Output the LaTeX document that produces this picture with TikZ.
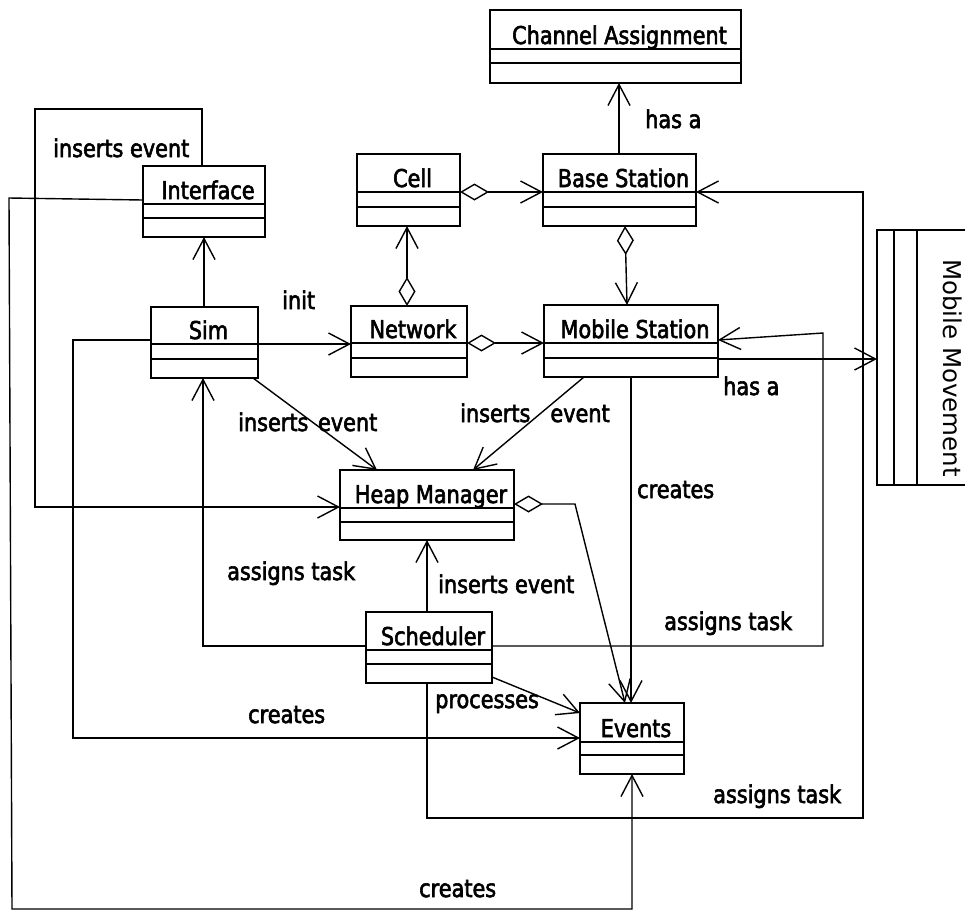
\documentclass[tikz,border=0pt]{standalone}
\usepackage{fontspec}
\setmainfont[FakeStretch=0.85,FakeBold=2.4]{DejaVu Sans}
\newfontfamily\wideface{DejaVu Sans}
\usetikzlibrary{arrows.meta,fit}

\tikzset{
  classbox/.style={draw, line width=1.8pt, inner sep=0pt, outer sep=0pt},
  classline/.style={line width=1.8pt},
  classname/.style={anchor=base, inner sep=0pt, font=\fontsize{24.5}{29}\selectfont},
  lbl/.style={anchor=base west, inner sep=0pt, font=\fontsize{24.5}{29}\selectfont},
  conn/.style={line width=1.4pt},
  tip/.tip={Straight Barb[length=21pt,width=22pt]},
  assoc/.style={conn, -tip},
  aggr/.style={conn, {Diamond[open,length=29pt,width=17pt]}-tip},
}

% UML class: name, title, x1, y1, x2, y2, first divider, second divider
\newcommand\umlclass[8]{%
  \node[classbox, fit={(#3,#4) (#5,#6)}] (#1) {};
  \draw[classline] (#3,#7) -- (#5,#7) (#3,#8) -- (#5,#8);
  \node[classname] (#1-name) at ({(#3+#5)/2+4},{#7-5}) {#2};
}

\begin{document}
\begin{tikzpicture}[x=1pt,y=-1pt]
\useasboundingbox (0,0) rectangle (965,911);

% classes
\umlclass{chan}{Channel Assignment}{490}{10}{741}{83}{49}{63}
\umlclass{iface}{Interface}{143}{166}{265}{237}{204}{218}
\umlclass{cell}{Cell}{357}{154}{460}{226}{192}{207}
\umlclass{base}{Base Station}{543}{154}{696}{226}{192}{207}
\umlclass{sim}{Sim}{151}{307}{258}{378}{344}{359}
\umlclass{net}{Network}{351}{306}{467}{377}{343}{358}
\umlclass{mobile}{Mobile Station}{544}{305}{718}{377}{343}{358}
\umlclass{heap}{Heap Manager}{340}{470}{514}{540}{508}{522}
\umlclass{sched}{Scheduler}{366}{612}{492}{683}{650}{664}
\umlclass{events}{Events}{580}{703}{684}{774}{742}{755}

% rotated class running off the right edge
\node[classbox, fit={(877,230) (985,485)}] (movement) {};
\draw[classline] (894,230) -- (894,485) (917,230) -- (917,485);
\node[classname, rotate=-90, font=\wideface\fontsize{24.5}{29}\selectfont] (movement-name) at (943,368) {Mobile Movement};

% associations and aggregations
\draw[assoc] (619,0 |- base.north) -- (619,0 |- chan.south);
\draw[aggr] (cell.east |- 0,192) -- (base.west |- 0,192);
\draw[aggr] (407,0 |- net.north) -- (407,0 |- cell.south);
\draw[aggr] (625,0 |- base.south) -- (627,0 |- mobile.north);
\draw[assoc] (204,0 |- sim.north) -- (204,0 |- iface.south);
\draw[assoc] (sim.east |- 0,344) -- (net.west |- 0,344);
\draw[aggr] (net.east |- 0,343) -- (mobile.west |- 0,343);
\draw[assoc] (253,0 |- sim.south) -- (377,0 |- heap.north);
\draw[assoc] (584,0 |- mobile.south) -- (473,0 |- heap.north);
\draw[assoc] (mobile.east |- 0,359) -- (movement.west |- 0,359);
\draw[assoc] (427,0 |- sched.south) -- (427,818) -- (863,818) -- (863,192) -- (base.east |- 0,192);
\draw[assoc] (sched.east |- 0,646) -- (823,646) -- (823,333) -- (mobile.east |- 0,340);
\draw[assoc] (sched.west |- 0,646) -- (203,646) -- (203,0 |- sim.south);
\draw[assoc] (427,0 |- sched.north) -- (427,0 |- heap.south);
\draw[aggr] (heap.east |- 0,504) -- (575,504) -- (625,0 |- events.north);
\draw[assoc] (631,0 |- mobile.south) -- (631,0 |- events.north);
\draw[assoc] (sched.east |- 0,677) -- (events.west |- 0,713);
\draw[assoc] (sim.west |- 0,340) -- (73,340) -- (73,738) -- (events.west |- 0,738);
\draw[assoc] (202,0 |- iface.north) -- (202,109) -- (35,109) -- (35,507) -- (heap.west |- 0,507);
\draw[assoc] (iface.west |- 0,200) -- (9,198) -- (12,909) -- (632,909) -- (632,0 |- events.south);

% connector labels
\node[lbl] (l-hasa-top) at (645,128) {has a};
\node[lbl] (l-ins-iface) at (53,157) {inserts event};
\node[lbl] (l-init) at (282,309) {init};
\node[lbl] (l-ins-sim) at (238,431) {inserts\hspace{3pt} event};
\node[lbl] (l-ins-mobile) at (460,422) {inserts\hspace{20pt}event};
\node[lbl] (l-hasa-right) at (723,395) {has a};
\node[lbl] (l-creates-mobile) at (637,498) {creates};
\node[lbl] (l-assign-sim) at (227,580) {assigns task};
\node[lbl] (l-ins-sched) at (438,593) {inserts event};
\node[lbl] (l-assign-mobile) at (664,630) {assigns task};
\node[lbl] (l-processes) at (435,708) {processes};
\node[lbl] (l-creates-sim) at (248,723) {creates};
\node[lbl] (l-assign-base) at (713,803) {assigns task};
\node[lbl] (l-creates-iface) at (419,897) {creates};
\end{tikzpicture}
\end{document}
